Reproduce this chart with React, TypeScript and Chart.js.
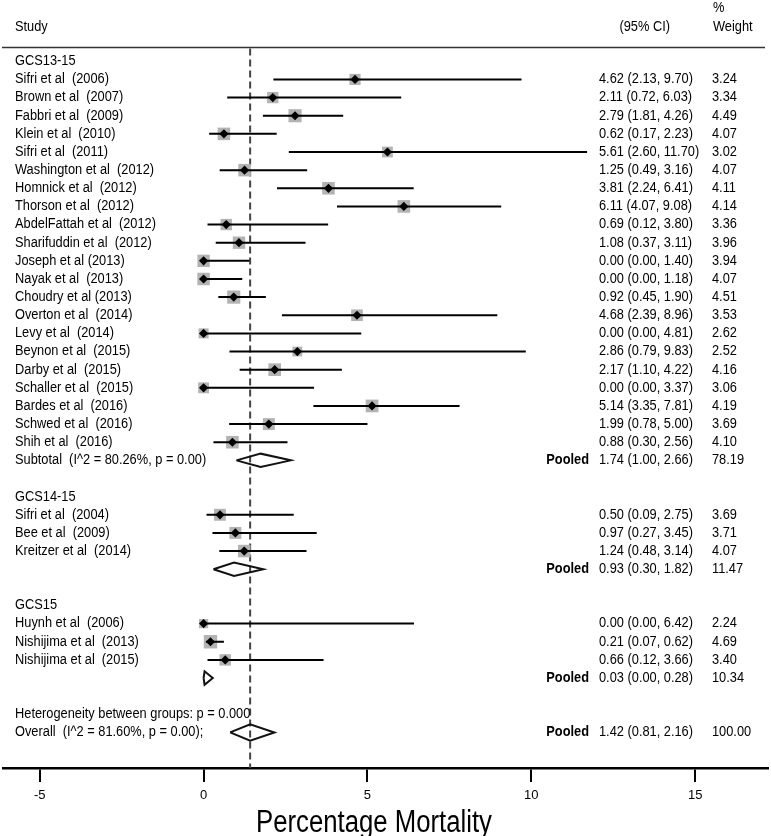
import React, { useEffect, useRef } from "react";
import { Chart, registerables } from "chart.js";

Chart.register(...registerables);

// ---------- DATA ----------
const rowLabels: string[] = [
  "GCS13-15",
  "Sifri et al  (2006)",
  "Brown et al  (2007)",
  "Fabbri et al  (2009)",
  "Klein et al  (2010)",
  "Sifri et al  (2011)",
  "Washington et al  (2012)",
  "Homnick et al  (2012)",
  "Thorson et al  (2012)",
  "AbdelFattah et al  (2012)",
  "Sharifuddin et al  (2012)",
  "Joseph et al (2013)",
  "Nayak et al  (2013)",
  "Choudry et al (2013)",
  "Overton et al  (2014)",
  "Levy et al  (2014)",
  "Beynon et al  (2015)",
  "Darby et al  (2015)",
  "Schaller et al  (2015)",
  "Bardes et al  (2016)",
  "Schwed et al  (2016)",
  "Shih et al  (2016)",
  "Subtotal  (I^2 = 80.26%, p = 0.00)",
  "",
  "GCS14-15",
  "Sifri et al  (2004)",
  "Bee et al  (2009)",
  "Kreitzer et al  (2014)",
  "",
  "",
  "GCS15",
  "Huynh et al  (2006)",
  "Nishijima et al  (2013)",
  "Nishijima et al  (2015)",
  "",
  "",
  "Heterogeneity between groups: p = 0.000",
  "Overall  (I^2 = 81.60%, p = 0.00);",
];

const rowType: string[] = [
  "group",
  "study", "study", "study", "study", "study", "study", "study", "study", "study", "study",
  "study", "study", "study", "study", "study", "study", "study", "study", "study", "study", "study",
  "pooled",
  "blank",
  "group",
  "study", "study", "study",
  "pooled",
  "blank",
  "group",
  "study", "study", "study",
  "pooled",
  "blank",
  "text",
  "overall",
];

const estimate: (number | null)[] = [
  null,
  4.62, 2.11, 2.79, 0.62, 5.61, 1.25, 3.81, 6.11, 0.69, 1.08,
  0.0, 0.0, 0.92, 4.68, 0.0, 2.86, 2.17, 0.0, 5.14, 1.99, 0.88,
  1.74,
  null,
  null,
  0.5, 0.97, 1.24,
  0.93,
  null,
  null,
  0.0, 0.21, 0.66,
  0.03,
  null,
  null,
  1.42,
];

const ciLower: (number | null)[] = [
  null,
  2.13, 0.72, 1.81, 0.17, 2.6, 0.49, 2.24, 4.07, 0.12, 0.37,
  0.0, 0.0, 0.45, 2.39, 0.0, 0.79, 1.1, 0.0, 3.35, 0.78, 0.3,
  1.0,
  null,
  null,
  0.09, 0.27, 0.48,
  0.3,
  null,
  null,
  0.0, 0.07, 0.12,
  0.0,
  null,
  null,
  0.81,
];

const ciUpper: (number | null)[] = [
  null,
  9.7, 6.03, 4.26, 2.23, 11.7, 3.16, 6.41, 9.08, 3.8, 3.11,
  1.4, 1.18, 1.9, 8.96, 4.81, 9.83, 4.22, 3.37, 7.81, 5.0, 2.56,
  2.66,
  null,
  null,
  2.75, 3.45, 3.14,
  1.82,
  null,
  null,
  6.42, 0.62, 3.66,
  0.28,
  null,
  null,
  2.16,
];

const weight: (number | null)[] = [
  null,
  3.24, 3.34, 4.49, 4.07, 3.02, 4.07, 4.11, 4.14, 3.36, 3.96,
  3.94, 4.07, 4.51, 3.53, 2.62, 2.52, 4.16, 3.06, 4.19, 3.69, 4.1,
  78.19,
  null,
  null,
  3.69, 3.71, 4.07,
  11.47,
  null,
  null,
  2.24, 4.69, 3.4,
  10.34,
  null,
  null,
  100.0,
];

const xTicks: number[] = [-5, 0, 5, 10, 15];
const xTitle = "Percentage Mortality";
const headerStudy = "Study";
const headerCI = "(95% CI)";
const headerPct = "%";
const headerWeight = "Weight";
const pooledLabel = "Pooled";

// ---------- LAYOUT CONSTANTS ----------
const W = 771;
const H = 836;
const Y_MIN = -3.38;
const Y_MAX = 38.96;
const X_MIN = -6.12;
const X_MAX = 17.22;
const FONT = "'Liberation Sans', Arial, sans-serif";
const SQ = 0.915;

type P = { x: number; y: number };
const GAP: P = { x: NaN, y: NaN };

function buildData() {
  const ci: P[] = [];
  const boxes: P[] = [];
  const boxRadius: number[] = [];
  const marks: P[] = [];
  const diamonds: P[] = [];
  let overallEst = 0;
  rowType.forEach((t, i) => {
    const e = estimate[i];
    const lo = ciLower[i];
    const hi = ciUpper[i];
    const w = weight[i];
    if (t === "study" && e != null && lo != null && hi != null && w != null) {
      ci.push({ x: lo, y: i }, { x: hi, y: i }, GAP);
      boxes.push({ x: e, y: i });
      boxRadius.push((6.2 * Math.sqrt(w)) / Math.SQRT2);
      marks.push({ x: e, y: i });
    }
    if ((t === "pooled" || t === "overall") && e != null && lo != null && hi != null) {
      const h = t === "overall" ? 0.45 : 0.37;
      diamonds.push(
        { x: lo, y: i },
        { x: e, y: i - h },
        { x: hi, y: i },
        { x: e, y: i + h },
        { x: lo, y: i },
        GAP
      );
      if (t === "overall") overallEst = e;
    }
  });
  return { ci, boxes, boxRadius, marks, diamonds, overallEst };
}

function drawText(
  ctx: CanvasRenderingContext2D,
  text: string,
  x: number,
  y: number,
  font: string,
  align: CanvasTextAlign,
  sx: number,
  baseline: CanvasTextBaseline = "middle"
) {
  ctx.save();
  ctx.font = font;
  ctx.textAlign = align;
  ctx.textBaseline = baseline;
  ctx.fillStyle = "#000";
  ctx.translate(x, y);
  ctx.scale(sx, 1);
  ctx.fillText(text, 0, 0);
  ctx.restore();
}

const textPlugin = {
  id: "forestText",
  beforeDatasetsDraw(chart: any) {
    const ctx: CanvasRenderingContext2D = chart.ctx;
    const ys = chart.scales.y;
    const area = chart.chartArea;
    const yl = ys.getPixelForValue(-0.76);
    ctx.save();
    ctx.strokeStyle = "#333";
    ctx.lineWidth = 1.5;
    ctx.beginPath();
    ctx.moveTo(area.left - 1, yl);
    ctx.lineTo(765, yl);
    ctx.stroke();
    ctx.restore();
  },
  afterDraw(chart: any) {
    const ctx: CanvasRenderingContext2D = chart.ctx;
    const ys = chart.scales.y;
    const body = `14px ${FONT}`;
    const bold = `bold 14px ${FONT}`;
    const yh = ys.getPixelForValue(-1.89);
    drawText(ctx, headerStudy, 15, yh, body, "left", SQ);
    drawText(ctx, headerCI, 670, yh, body, "right", SQ);
    drawText(ctx, headerPct, 713, ys.getPixelForValue(-2.94), body, "left", SQ);
    drawText(ctx, headerWeight, 713, yh, body, "left", SQ);

    rowLabels.forEach((lab, i) => {
      const y = ys.getPixelForValue(i);
      if (lab) drawText(ctx, lab, 15, y, body, "left", SQ);
      const e = estimate[i];
      const lo = ciLower[i];
      const hi = ciUpper[i];
      const w = weight[i];
      if (e != null && lo != null && hi != null && w != null) {
        const s = `${e.toFixed(2)} (${lo.toFixed(2)}, ${hi.toFixed(2)})`;
        drawText(ctx, s, 599, y, body, "left", SQ);
        drawText(ctx, w.toFixed(2), 712, y, body, "left", SQ);
        if (rowType[i] === "pooled" || rowType[i] === "overall") {
          drawText(ctx, pooledLabel, 589, y, bold, "right", SQ);
        }
      }
    });
    drawText(ctx, xTitle, 256, 832, `31px ${FONT}`, "left", 0.83, "alphabetic");
  },
};

export default function App() {
  const ref = useRef<HTMLCanvasElement | null>(null);

  useEffect(() => {
    document.body.style.margin = "0";
    const canvas = ref.current;
    if (!canvas) return;
    const d = buildData();
    const chart = new Chart(canvas, {
      type: "scatter",
      data: {
        datasets: [
          {
            label: "markers",
            data: d.marks,
            pointStyle: "rectRot",
            pointRadius: 4.6,
            backgroundColor: "#000",
            borderColor: "#000",
            borderWidth: 0,
            order: 0,
          } as any,
          {
            label: "ci",
            data: d.ci,
            showLine: true,
            pointRadius: 0,
            borderColor: "#000",
            borderWidth: 2,
            spanGaps: false,
            order: 1,
          } as any,
          {
            label: "diamonds",
            data: d.diamonds,
            showLine: true,
            pointRadius: 0,
            borderColor: "#111",
            borderWidth: 2,
            spanGaps: false,
            borderJoinStyle: "miter",
            order: 1,
          } as any,
          {
            label: "boxes",
            data: d.boxes,
            pointStyle: "rect",
            pointRadius: d.boxRadius,
            backgroundColor: "#b3b3b3",
            borderWidth: 0,
            order: 2,
          } as any,
          {
            label: "overall",
            data: [
              { x: d.overallEst, y: -0.7 },
              { x: d.overallEst, y: Y_MAX },
            ],
            showLine: true,
            pointRadius: 0,
            borderColor: "#444",
            borderWidth: 2,
            borderDash: [7, 4],
            order: 3,
          } as any,
        ],
      },
      options: {
        animation: false,
        responsive: false,
        events: [],
        layout: { autoPadding: false, padding: { left: 3, right: 3, top: 0, bottom: 0 } },
        plugins: {
          legend: { display: false },
          tooltip: { enabled: false },
          title: { display: false },
        },
        scales: {
          x: {
            type: "linear",
            min: X_MIN,
            max: X_MAX,
            afterBuildTicks: (scale: any) => {
              scale.ticks = xTicks.map((v) => ({ value: v }));
            },
            afterFit: (scale: any) => {
              scale.height = H - 768;
            },
            grid: {
              drawOnChartArea: false,
              drawTicks: true,
              tickLength: 14,
              color: "#000",
              lineWidth: 2,
            },
            border: { display: true, color: "#000", width: 2.5 },
            ticks: {
              color: "#000",
              padding: 6,
              font: { family: FONT, size: 13 },
              maxRotation: 0,
            },
          },
          y: {
            type: "linear",
            display: false,
            reverse: true,
            min: Y_MIN,
            max: Y_MAX,
          },
        },
      },
      plugins: [textPlugin],
    } as any);
    return () => chart.destroy();
  }, []);

  return (
    <div style={{ width: W, height: H, background: "#fff" }}>
      <canvas ref={ref} width={W} height={H} style={{ width: W, height: H, display: "block" }} />
    </div>
  );
}
